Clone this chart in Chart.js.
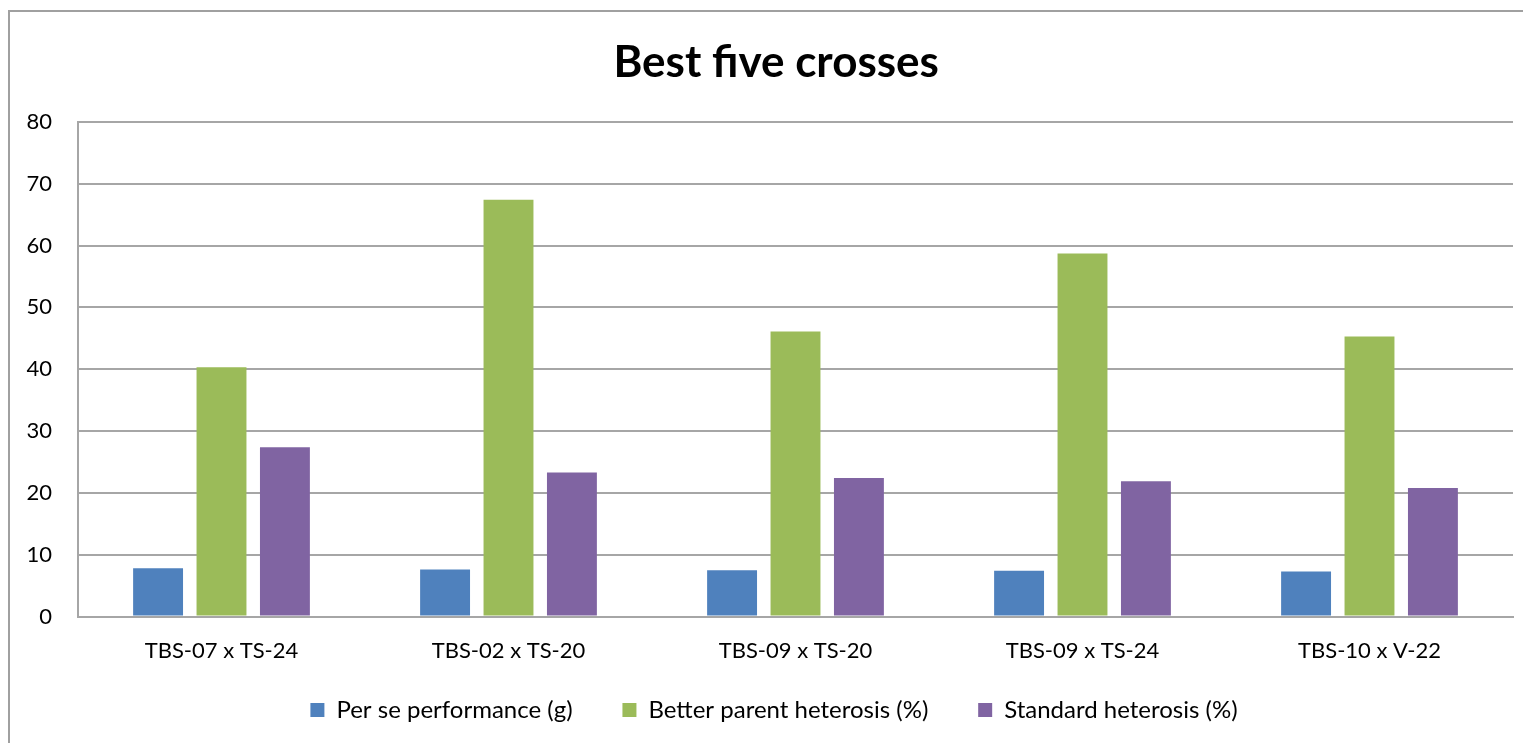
<!DOCTYPE html>
<html>
<head>
<meta charset="utf-8">
<script src="https://cdn.jsdelivr.net/npm/chart.js@4"></script>
<style>
  body { margin: 0; background: #fff; overflow: hidden; }
  .frame { position: absolute; left: 8px; top: 10px; width: 1600px; height: 800px; border: 2px solid #a0a0a0; }
  .wrap { position: absolute; left: 0; top: 0; width: 1523px; height: 743px; }
</style>
</head>
<body>
<div class="frame"></div>
<div class="wrap"><canvas id="myChart" width="1523" height="743"></canvas></div>
<script>
const crosses = ['TBS-07 x TS-24', 'TBS-02 x TS-20', 'TBS-09 x TS-20', 'TBS-09 x TS-24', 'TBS-10 x V-22'];
const perSe = [7.8, 7.6, 7.5, 7.4, 7.3];
const betterParent = [40.3, 67.4, 46.1, 58.7, 45.3];
const standardHet = [27.4, 23.3, 22.4, 21.9, 20.8];
const yTicks = [0, 10, 20, 30, 40, 50, 60, 70, 80];

const gridGray = '#a6a6a6';

new Chart(document.getElementById('myChart'), {
  type: 'bar',
  data: {
    labels: crosses,
    datasets: [
      { label: 'Per se performance (g)', data: perSe, backgroundColor: '#4F81BD' },
      { label: 'Better parent heterosis (%)', data: betterParent, backgroundColor: '#9BBB59' },
      { label: 'Standard heterosis (%)', data: standardHet, backgroundColor: '#8064A2' }
    ]
  },
  options: {
    responsive: false,
    animation: false,
    datasets: { bar: { categoryPercentage: 0.663, barPercentage: 0.787 } },
    layout: { padding: { left: 18, right: 10, top: 0, bottom: 11 } },
    plugins: {
      title: {
        display: true,
        text: '  Best five crosses',   // leading spaces nudge it right, the original sits a bit off-centre
        color: '#000',
        font: { family: 'Lato', size: 44, weight: 'bold' },
        padding: { top: 36, bottom: 33 }
      },
      legend: {
        position: 'bottom',
        fullSize: false,
        labels: {
          color: '#000',
          font: { family: 'Lato', size: 24 },
          boxWidth: 14,
          boxHeight: 14,
          padding: 13,
          // trailing spaces widen the gaps between entries like in the original
          generateLabels: (chart) => {
            const items = Chart.defaults.plugins.legend.labels.generateLabels(chart);
            items.forEach((it, i) => { it.text += (i < items.length - 1) ? '      ' : '       '; });
            return items;
          }
        }
      },
      tooltip: { enabled: false }
    },
    scales: {
      x: {
        grid: { display: false, drawTicks: false },
        border: { color: gridGray, width: 2 },
        ticks: { color: '#000', font: { family: 'Lato', size: 22 }, padding: 21 }
      },
      y: {
        min: 0,
        max: 80,
        afterBuildTicks: (s) => { s.ticks = yTicks.map(v => ({ value: v })); },
        afterFit: (s) => { s.width = 60; },
        grid: { color: gridGray, lineWidth: 2, drawTicks: false },
        border: { color: gridGray, width: 2 },
        ticks: { color: '#000', font: { family: 'Lato', size: 22 }, padding: 26 }
      }
    }
  }
});
</script>
</body>
</html>
